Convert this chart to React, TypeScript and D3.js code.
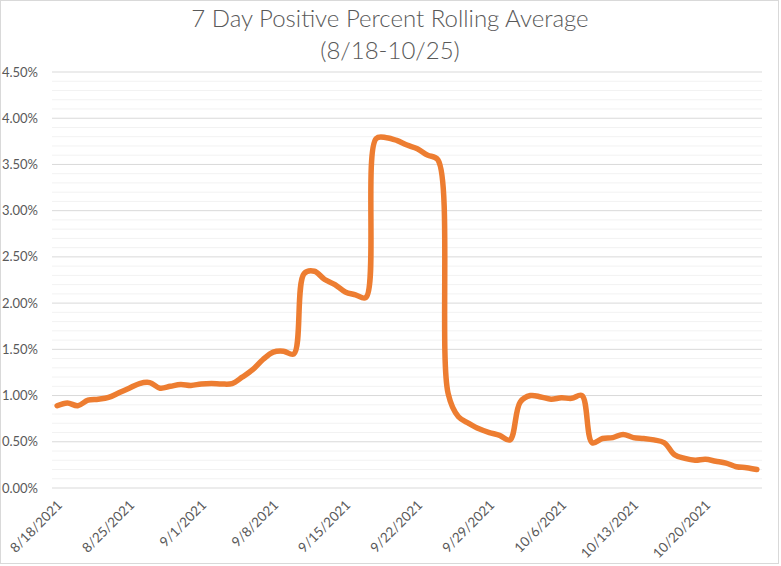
import React from "react";
import * as d3 from "d3";

const dates: string[] = [
  "8/18/2021","8/19/2021","8/20/2021","8/21/2021","8/22/2021","8/23/2021","8/24/2021",
  "8/25/2021","8/26/2021","8/27/2021","8/28/2021","8/29/2021","8/30/2021","8/31/2021",
  "9/1/2021","9/2/2021","9/3/2021","9/4/2021","9/5/2021","9/6/2021","9/7/2021",
  "9/8/2021","9/9/2021","9/10/2021","9/11/2021","9/12/2021","9/13/2021","9/14/2021",
  "9/15/2021","9/16/2021","9/17/2021","9/18/2021","9/19/2021","9/20/2021","9/21/2021",
  "9/22/2021","9/23/2021","9/24/2021","9/25/2021","9/26/2021","9/27/2021","9/28/2021",
  "9/29/2021","9/30/2021","10/1/2021","10/2/2021","10/3/2021","10/4/2021","10/5/2021",
  "10/6/2021","10/7/2021","10/8/2021","10/9/2021","10/10/2021","10/11/2021","10/12/2021",
  "10/13/2021","10/14/2021","10/15/2021","10/16/2021","10/17/2021","10/18/2021","10/19/2021",
  "10/20/2021","10/21/2021","10/22/2021","10/23/2021","10/24/2021","10/25/2021",
];

// percent values
const positivePct: number[] = [
  0.89, 0.92, 0.89, 0.95, 0.96, 0.98, 1.03,
  1.08, 1.13, 1.14, 1.08, 1.10, 1.12, 1.11,
  1.125, 1.13, 1.125, 1.13, 1.20, 1.28, 1.39,
  1.47, 1.48, 1.45, 2.32, 2.345, 2.255, 2.20,
  2.12, 2.09, 2.06, 3.78, 3.79, 3.76, 3.71,
  3.67, 3.60, 3.55, 1.02, 0.77, 0.70, 0.64,
  0.60, 0.57, 0.52, 0.93, 1.00, 0.985, 0.96,
  0.975, 0.97, 1.00, 0.49, 0.535, 0.545, 0.58,
  0.545, 0.535, 0.52, 0.49, 0.36, 0.32, 0.30,
  0.31, 0.29, 0.27, 0.23, 0.22, 0.20,
];

const xTickLabels: string[] = [
  "8/18/2021","8/25/2021","9/1/2021","9/8/2021","9/15/2021",
  "9/22/2021","9/29/2021","10/6/2021","10/13/2021","10/20/2021",
];

const yMajorTicks: number[] = [0, 0.5, 1, 1.5, 2, 2.5, 3, 3.5, 4, 4.5];
const yMinorTicks: number[] = [
  0.1,0.2,0.3,0.4,0.6,0.7,0.8,0.9,1.1,1.2,1.3,1.4,1.6,1.7,1.8,1.9,
  2.1,2.2,2.3,2.4,2.6,2.7,2.8,2.9,3.1,3.2,3.3,3.4,3.6,3.7,3.8,3.9,
  4.1,4.2,4.3,4.4,
];

const titleLines: string[] = ["7 Day Positive Percent Rolling Average", "(8/18-10/25)"];

const W = 781;
const H = 566;
const plotLeft = 52;
const plotRight = 762;
const plotTop = 72;
const plotBottom = 488;
const FONT = "Lato, 'Liberation Sans', sans-serif";
const TEXT_COLOR = "#595959";

export default function App() {
  const x = d3.scalePoint<string>().domain(dates).range([plotLeft, plotRight]).padding(0.5);
  const y = d3.scaleLinear().domain([0, 4.5]).range([plotBottom, plotTop]);

  const line = d3
    .line<number>()
    .x((_, i) => x(dates[i]) as number)
    .y((d) => y(d))
    .curve(d3.curveCatmullRom.alpha(0.5));

  return (
    <svg
      width={W}
      height={H}
      style={{ position: "absolute", left: 0, top: 0, background: "#fff" }}
    >
      <rect x={0.5} y={0.5} width={W - 3} height={H - 3} fill="#fff" stroke="#d9d9d9" />
      {titleLines.map((t, i) => (
        <text
          key={t}
          x={390}
          y={27 + i * 32}
          textAnchor="middle"
          fontFamily={FONT}
          fontWeight={300}
          fontSize={24}
          fill={TEXT_COLOR}
        >
          {t}
        </text>
      ))}
      {yMinorTicks.map((v) => (
        <line key={"m" + v} x1={plotLeft} x2={plotRight} y1={y(v)} y2={y(v)} stroke="#f2f2f2" strokeWidth={1} />
      ))}
      {yMajorTicks.map((v) => (
        <line key={"M" + v} x1={plotLeft} x2={plotRight} y1={y(v)} y2={y(v)} stroke="#d9d9d9" strokeWidth={1} />
      ))}
      {yMajorTicks.map((v) => (
        <text
          key={"t" + v}
          x={38}
          y={y(v) + 4.5}
          textAnchor="end"
          fontFamily={FONT}
          fontSize={13}
          fill={TEXT_COLOR}
        >
          {v.toFixed(2) + "%"}
        </text>
      ))}
      {xTickLabels.map((d) => {
        const px = (x(d) as number) + 6;
        const py = 506;
        return (
          <text
            key={d}
            x={px}
            y={py}
            transform={`rotate(-45, ${px}, ${py})`}
            textAnchor="end"
            fontFamily={FONT}
            fontSize={13.5}
            fill={TEXT_COLOR}
          >
            {d}
          </text>
        );
      })}
      <path
        d={line(positivePct) || ""}
        fill="none"
        stroke="#ED7D31"
        strokeWidth={5.5}
        strokeLinejoin="round"
        strokeLinecap="round"
      />
    </svg>
  );
}
